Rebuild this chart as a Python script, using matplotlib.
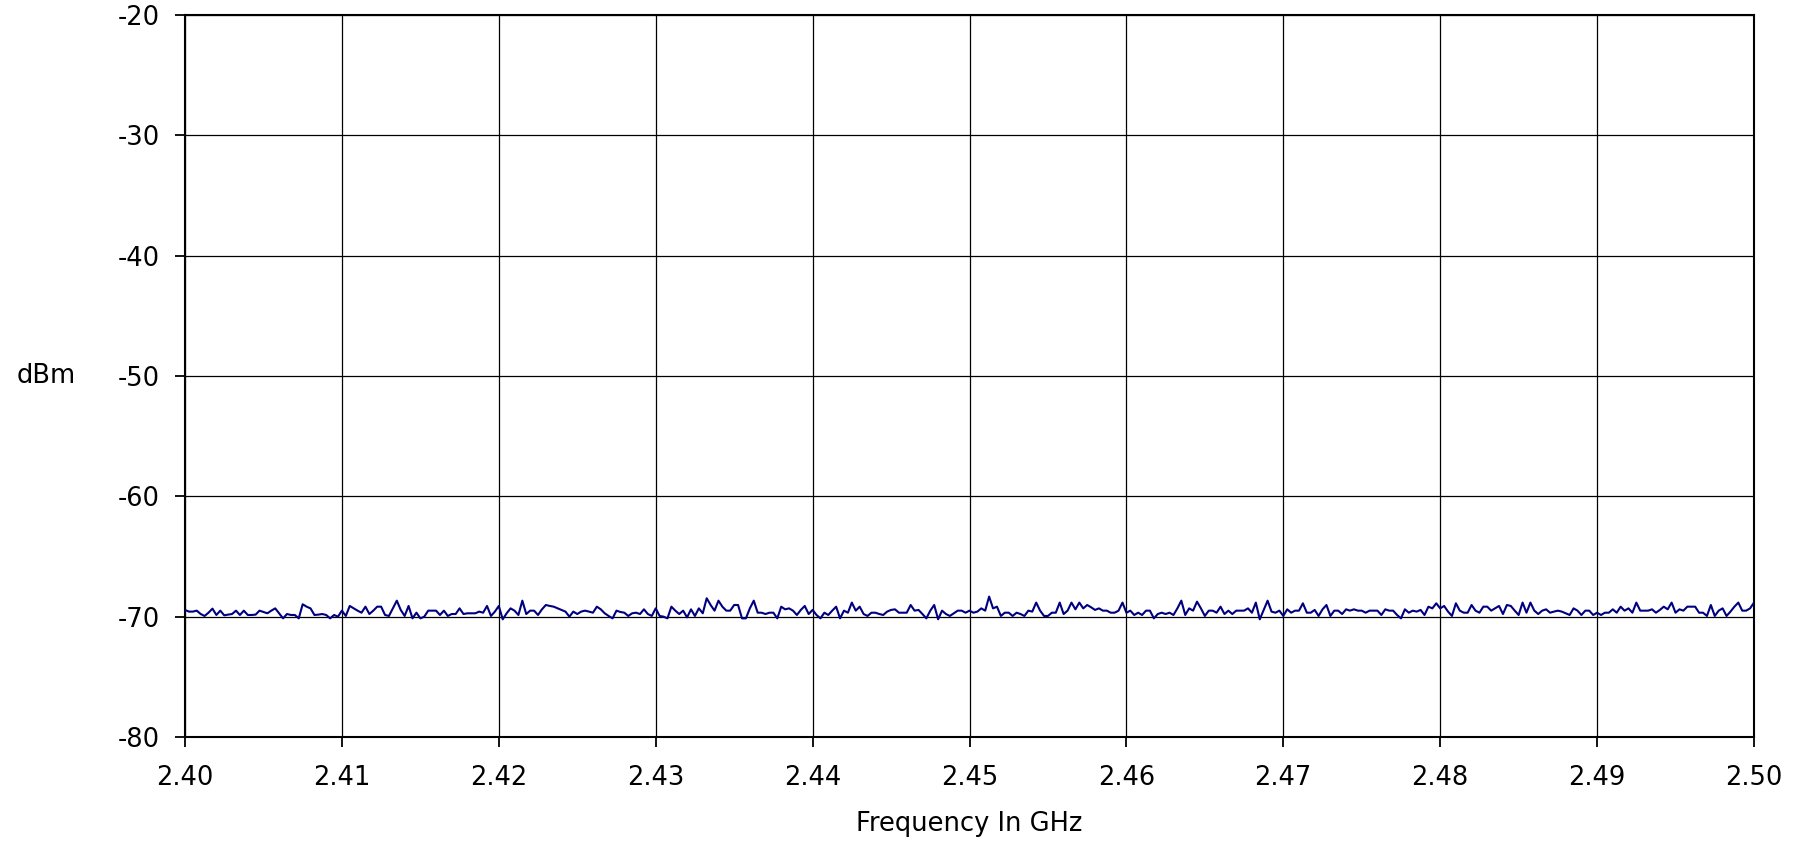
import matplotlib
matplotlib.use("Agg")
import matplotlib.pyplot as plt
import numpy as np

plt.rcParams['font.family'] = ['DejaVu Sans']

# sweep: 401 points from 2.40 to 2.50 GHz
freq_start, freq_stop, n_points = 2.40, 2.50, 401

# level trace in dBm, left to right
level_a = [-69.44, -69.58, -69.58, -69.50, -69.78, -69.94, -69.67, -69.33, -69.86, -69.50,
           -69.89, -69.83, -69.78, -69.50, -69.86, -69.50, -69.86, -69.86, -69.83, -69.50,
           -69.61, -69.72, -69.50, -69.31, -69.72, -70.14, -69.78, -69.86, -69.86, -70.14,
           -68.97, -69.17, -69.31, -69.86, -69.83, -69.78, -69.86, -70.14, -69.86, -70.00,
           -69.50, -69.94, -69.11, -69.31, -69.50, -69.67, -69.17, -69.78, -69.50, -69.17]
level_b = [-69.17, -69.86, -69.94, -69.31, -68.67, -69.44, -69.94, -69.11, -70.14, -69.67,
           -70.14, -70.00, -69.50, -69.50, -69.50, -69.86, -69.50, -69.94, -69.78, -69.78,
           -69.31, -69.78, -69.72, -69.72, -69.72, -69.58, -69.67, -69.11, -69.94, -69.58,
           -69.11, -70.22, -69.72, -69.31, -69.50, -69.86, -68.67, -69.78, -69.50, -69.50,
           -69.86, -69.39, -69.03, -69.11, -69.17, -69.31, -69.44, -69.58, -70.00, -69.58]
level_c = [-69.78, -69.58, -69.50, -69.58, -69.67, -69.17, -69.39, -69.72, -69.94, -70.14,
           -69.50, -69.61, -69.67, -69.94, -69.72, -69.67, -69.78, -69.39, -69.78, -69.94,
           -69.31, -69.94, -70.00, -70.14, -69.17, -69.50, -69.78, -69.50, -70.06, -69.39,
           -69.94, -69.31, -69.72, -68.47, -69.03, -69.50, -68.67, -69.17, -69.50, -69.50,
           -69.03, -69.03, -70.14, -70.14, -69.31, -68.67, -69.67, -69.67, -69.78, -69.67]
level_d = [-69.67, -70.14, -69.17, -69.39, -69.31, -69.50, -69.86, -69.44, -69.11, -69.78,
           -69.44, -69.86, -70.14, -69.67, -69.86, -69.50, -69.17, -70.14, -69.50, -69.67,
           -68.83, -69.50, -69.17, -69.78, -69.94, -69.67, -69.67, -69.78, -69.86, -69.58,
           -69.44, -69.39, -69.67, -69.67, -69.67, -69.03, -69.50, -69.44, -69.78, -70.14,
           -69.50, -69.03, -70.22, -69.50, -69.78, -69.94, -69.72, -69.50, -69.50, -69.67]
level_e = [-69.50, -69.67, -69.58, -69.31, -69.50, -68.33, -69.31, -69.17, -69.94, -69.67,
           -69.67, -69.94, -69.67, -69.78, -69.94, -69.50, -69.58, -68.83, -69.50, -69.94,
           -69.94, -69.67, -69.67, -68.83, -69.78, -69.50, -68.83, -69.39, -68.83, -69.31,
           -69.03, -69.22, -69.44, -69.31, -69.50, -69.50, -69.67, -69.67, -69.50, -68.83,
           -69.67, -69.50, -69.86, -69.67, -69.86, -69.50, -69.50, -70.14, -69.78, -69.67]
level_f = [-69.78, -69.67, -69.86, -69.31, -68.67, -69.86, -69.31, -69.50, -68.75, -69.31,
           -69.94, -69.50, -69.50, -69.67, -69.17, -69.78, -69.50, -69.78, -69.50, -69.50,
           -69.50, -69.31, -69.67, -68.83, -70.22, -69.44, -68.67, -69.58, -69.67, -69.50,
           -69.94, -69.39, -69.67, -69.50, -69.50, -68.89, -69.67, -69.67, -69.44, -69.94,
           -69.39, -69.03, -69.94, -69.50, -69.50, -69.78, -69.39, -69.50, -69.39, -69.50]
level_g = [-69.50, -69.67, -69.50, -69.50, -69.50, -69.86, -69.39, -69.50, -69.50, -69.86,
           -70.14, -69.39, -69.67, -69.50, -69.58, -69.44, -69.86, -69.17, -69.31, -68.89,
           -69.31, -69.11, -69.58, -69.94, -68.89, -69.50, -69.67, -69.67, -69.03, -69.50,
           -69.67, -69.17, -69.17, -69.50, -69.31, -69.11, -69.78, -69.03, -69.11, -69.50,
           -69.86, -68.83, -69.67, -68.83, -69.50, -69.78, -69.50, -69.39, -69.67, -69.58]
level_h = [-69.50, -69.58, -69.72, -69.86, -69.31, -69.50, -69.86, -69.50, -69.50, -69.86,
           -69.67, -69.86, -69.67, -69.67, -69.39, -69.67, -69.17, -69.50, -69.31, -69.67,
           -68.83, -69.50, -69.50, -69.50, -69.39, -69.67, -69.44, -69.17, -69.39, -68.83,
           -69.67, -69.39, -69.50, -69.17, -69.17, -69.17, -69.67, -69.67, -69.94, -69.03,
           -69.94, -69.50, -69.31, -69.94, -69.58, -69.17, -68.83, -69.50, -69.50, -69.31,
           -68.83]

level = np.array(level_a + level_b + level_c + level_d + level_e + level_f + level_g + level_h)
freq = np.linspace(freq_start, freq_stop, n_points)

x_ticks = [2.40, 2.41, 2.42, 2.43, 2.44, 2.45, 2.46, 2.47, 2.48, 2.49, 2.50]
y_ticks = [-80, -70, -60, -50, -40, -30, -20]

fig = plt.figure(figsize=(18.15, 8.43), dpi=100)
ax = fig.add_axes([185 / 1815, 1 - 737 / 843, (1754 - 185) / 1815, (737 - 15) / 843])

ax.plot(freq, level, color='#000080', linewidth=1.5, zorder=3)

ax.set_xlim(2.40, 2.50)
ax.set_ylim(-80, -20)
ax.set_xticks(x_ticks)
ax.set_xticklabels([f'{v:.2f}' for v in x_ticks])
ax.set_yticks(y_ticks)
ax.set_yticklabels([str(v) for v in y_ticks])

ax.grid(True, color='black', linewidth=0.9)
for spine in ax.spines.values():
    spine.set_linewidth(1.5)
    spine.set_color('black')

ax.tick_params(axis='both', direction='out', length=7, width=1.3, labelsize=18.5)
ax.tick_params(axis='y', pad=11)
ax.tick_params(axis='x', pad=13)

ax.set_xlabel('Frequency In GHz', fontsize=18.5)
ax.xaxis.set_label_coords(0.5, (737 - 824) / 722)
ax.xaxis.label.set_va('center')
ax.set_ylabel('dBm', fontsize=18.5, rotation=0, va='center', ha='center')
ax.yaxis.set_label_coords((46 - 185) / 1569, 0.5)

fig.savefig('out.png', dpi=100)
